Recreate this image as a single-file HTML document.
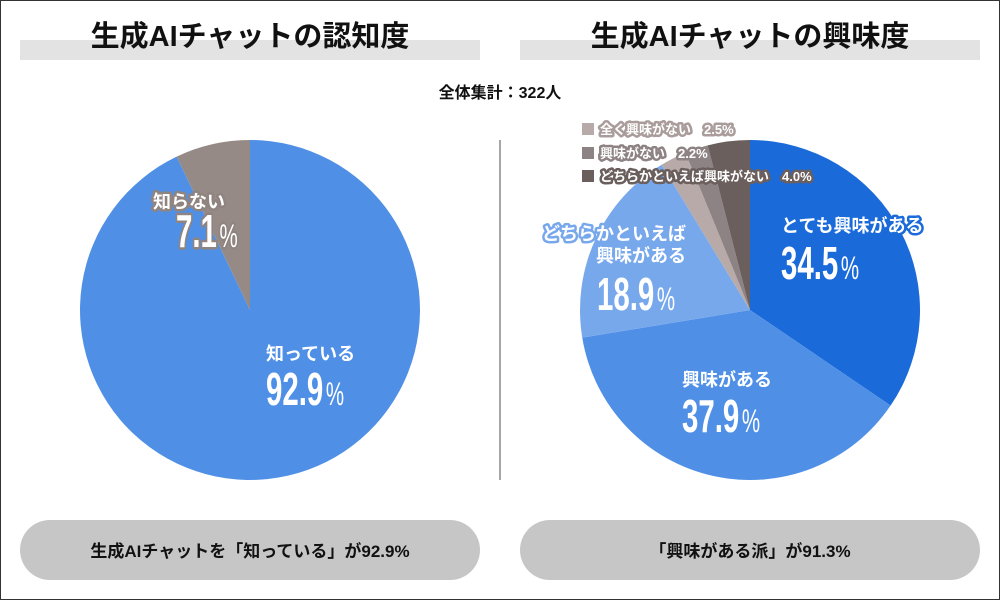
<!DOCTYPE html>
<html><head><meta charset="utf-8"><style>
html,body{margin:0;padding:0;background:#fff}
svg{display:block}
text{font-family:"Liberation Sans","Noto Sans CJK JP",sans-serif}
.jp{font-weight:bold}
.lab{fill:#fff;font-size:18px;font-weight:bold}
.big{fill:#fff;font-size:46px;font-weight:bold}
.pc{fill:#fff;font-size:32px;font-weight:normal}
.halo{paint-order:stroke;stroke-width:5px;stroke-linejoin:round}
</style></head><body>
<svg id="chart" width="1000" height="600" viewBox="0 0 1000 600">
<rect x="0.5" y="0.5" width="999" height="599" fill="#fff" stroke="#333" stroke-width="1"/>
<rect x="20" y="40" width="460" height="20" fill="#e3e3e3"/>
<rect x="520" y="40" width="460" height="20" fill="#e3e3e3"/>
<text x="250" y="46" text-anchor="middle" font-size="29" class="jp" fill="#111">生成AIチャットの認知度</text>
<text x="750" y="46" text-anchor="middle" font-size="29" class="jp" fill="#111">生成AIチャットの興味度</text>
<text x="500" y="98" text-anchor="middle" font-size="16" class="jp" fill="#111">全体集計：322人</text>
<line x1="500" y1="140" x2="500" y2="480" stroke="#888" stroke-width="1.5"/>
<g id="leftPie"></g>
<g id="rightPie"></g>

<g>
<text x="266" y="360" class="lab">知っている</text>
<g transform="translate(266,405) scale(0.64,1)"><text x="0" y="0" class="big">92.9<tspan class="pc" dx="4">%</tspan></text></g>
<text x="153" y="208" class="lab halo" stroke="#8f8480">知らない</text>
<g transform="translate(176,247) scale(0.64,1)"><text x="0" y="0" class="big halo" stroke="#8f8480" font-size="40">7.1<tspan class="pc" font-size="28" dx="4">%</tspan></text></g>
</g>

<g>
<text x="781" y="232" class="lab halo" stroke="#1a6ad9">とても興味がある</text>
<g transform="translate(781,279) scale(0.64,1)"><text x="0" y="0" class="big">34.5<tspan class="pc" dx="4">%</tspan></text></g>
<text x="686" y="240" text-anchor="end" class="lab halo" stroke="#78a8ec">どちらかといえば</text>
<text x="686" y="262" text-anchor="end" class="lab">興味がある</text>
<g transform="translate(597,310) scale(0.64,1)"><text x="0" y="0" class="big">18.9<tspan class="pc" dx="4">%</tspan></text></g>
<text x="682" y="386" class="lab">興味がある</text>
<g transform="translate(682,432) scale(0.64,1)"><text x="0" y="0" class="big">37.9<tspan class="pc" dx="4">%</tspan></text></g>
</g>

<g>
<rect x="582" y="123" width="12" height="12" fill="#b7aaa9"/>
<text x="600" y="134" font-size="13" class="jp halo" fill="#fff" stroke="#a99c9b">全く興味がない　2.5%</text>
<rect x="582" y="147" width="12" height="12" fill="#8e8384"/>
<text x="600" y="158" font-size="13" class="jp halo" fill="#fff" stroke="#8e8384">興味がない　2.2%</text>
<rect x="582" y="170" width="12" height="12" fill="#6b5f5e"/>
<text x="600" y="181" font-size="13" class="jp halo" fill="#fff" stroke="#6b5f5e">どちらかといえば興味がない　4.0%</text>
</g>

<rect x="20" y="520" width="460" height="60" rx="30" fill="#c6c6c6"/>
<rect x="520" y="520" width="460" height="60" rx="30" fill="#c6c6c6"/>
<text x="250" y="557" text-anchor="middle" font-size="17" class="jp" fill="#111">生成AIチャットを「知っている」が92.9%</text>
<text x="750" y="557" text-anchor="middle" font-size="17" class="jp" fill="#111">「興味がある派」が91.3%</text>
</svg>
<script>
const awarenessCategories = ['知っている','知らない'];
const awarenessValues = [92.9, 7.1];
const interestCategories = ['とても興味がある','興味がある','どちらかといえば興味がある','全く興味がない','興味がない','どちらかといえば興味がない'];
const interestValues = [34.5, 37.9, 18.9, 2.5, 2.2, 4.0];
const awarenessColors = ['#4f90e6','#968a87'];
const interestColors = ['#1a6ad9','#4f90e6','#78a8ec','#b7aaa9','#8e8384','#6b5f5e'];
const NS='http://www.w3.org/2000/svg';
function drawPie(g, cx, cy, r, vals, cols, names){
  const total = vals.reduce((a,b)=>a+b,0);
  let a0 = -Math.PI/2;
  vals.forEach((v,i)=>{
    const a1 = a0 + v/total*2*Math.PI;
    const x0=cx+r*Math.cos(a0), y0=cy+r*Math.sin(a0);
    const x1=cx+r*Math.cos(a1), y1=cy+r*Math.sin(a1);
    const large = (a1-a0)>Math.PI?1:0;
    const p=document.createElementNS(NS,'path');
    p.setAttribute('d',`M${cx},${cy}L${x0},${y0}A${r},${r} 0 ${large} 1 ${x1},${y1}Z`);
    p.setAttribute('fill',cols[i]);
    
    
    g.appendChild(p);
    a0=a1;
  });
}
drawPie(document.getElementById('leftPie'),250,310,170,awarenessValues,awarenessColors,awarenessCategories);
drawPie(document.getElementById('rightPie'),750,310,170,interestValues,interestColors,interestCategories);
</script>
</body></html>
